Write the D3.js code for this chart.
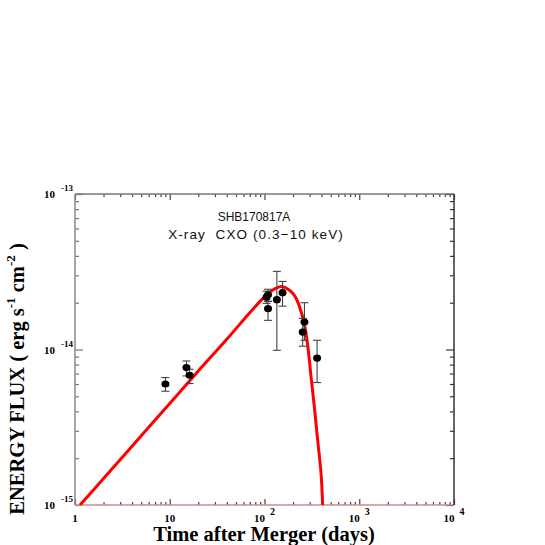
<!DOCTYPE html>
<html>
<head>
<meta charset="utf-8">
<script src="https://cdn.jsdelivr.net/npm/d3@7"></script>
<style>
  body { margin: 0; background: #fff; }
  svg { display: block; }
  .tick-lab { font-family: "Liberation Serif", "Times New Roman", serif; font-weight: bold; }
  .note { font-family: "Liberation Sans", Arial, sans-serif; fill: #111; }
</style>
</head>
<body>
<svg id="chart"></svg>
<script>
// X-ray CXO observations (days after merger, erg s-1 cm-2)
const obsDays = [9.0, 15.0, 16.2, 109, 105, 109, 135, 155, 264, 253, 359];
const obsFlux = [6.0e-15, 7.65e-15, 6.83e-15, 2.25e-14, 2.17e-14, 1.83e-14, 2.09e-14, 2.32e-14, 1.50e-14, 1.295e-14, 8.81e-15];
const obsHi = [6.6e-15, 8.44e-15, 7.46e-15, 2.44e-14, 2.37e-14, 2.04e-14, 3.18e-14, 2.74e-14, 2.0e-14, 1.585e-14, 1.146e-14];
const obsLo = [5.39e-15, 6.76e-15, 6.04e-15, 2.04e-14, 1.98e-14, 1.54e-14, 9.88e-15, 1.90e-14, 1.146e-14, 1.05e-14, 6.13e-15];

// model light curve
const modelDays = [1.129, 2, 4, 10, 20, 40, 69.5, 93, 113, 130.5, 151, 179, 207, 233.6, 263.7, 285.6, 310, 336, 364, 395, 411];
const modelFlux = [1.0e-15, 1.48e-15, 2.39e-15, 4.50e-15, 7.27e-15, 1.163e-14, 1.716e-14, 2.085e-14, 2.33e-14, 2.47e-14,
                   2.54e-14, 2.435e-14, 2.23e-14, 1.894e-14, 1.452e-14, 1.064e-14, 6.66e-15, 4.27e-15,
                   2.61e-15, 1.60e-15, 1.0e-15];

const xMajor = [1, 10, 100, 1000, 10000];
const xMajorLabels = [["1", ""], ["10", ""], ["10", "2"], ["10", "3"], ["10", "4"]];
const yMajor = [1e-15, 1e-14, 1e-13];
const yMajorExp = ["-15", "-14", "-13"];

const width = 545, height = 545;
const padL = 75, padR = 454, padT = 194, padB = 505;

const svg = d3.select('#chart').attr('width', width).attr('height', height);

const x = d3.scaleLog().domain([1, 1e4]).range([padL, padR]);
const y = d3.scaleLog().domain([1e-15, 1e-13]).range([padB, padT]);

const minorX = x.ticks().filter(v => !xMajor.includes(v));
const minorY = y.ticks().filter(v => !yMajor.some(m => Math.abs(m - v) / m < 1e-6));

// axes, ticks pointing inside on all four sides
const addAxis = (axis, tr, vals, size, color) => {
  const g = svg.append('g').attr('transform', tr)
    .call(axis.tickValues(vals).tickSize(size).tickFormat(''));
  g.select('.domain').remove();
  g.selectAll('line').attr('stroke', color).attr('stroke-width', 1.2);
  return g;
};

addAxis(d3.axisBottom(x), `translate(0,${padB})`, minorX, -3, '#444');
addAxis(d3.axisBottom(x), `translate(0,${padB})`, xMajor, -6, '#444');
addAxis(d3.axisTop(x), `translate(0,${padT})`, minorX, -3, '#444');
addAxis(d3.axisTop(x), `translate(0,${padT})`, xMajor, -6, '#444');
addAxis(d3.axisLeft(y), `translate(${padL},0)`, minorY, -4, '#777');
addAxis(d3.axisLeft(y), `translate(${padL},0)`, yMajor, -8, '#777');
addAxis(d3.axisRight(y), `translate(${padR},0)`, minorY, -4, '#333');
addAxis(d3.axisRight(y), `translate(${padR},0)`, yMajor, -8, '#333');

// frame
svg.append('line').attr('x1', padL).attr('x2', padR).attr('y1', padT).attr('y2', padT)
  .attr('stroke', '#777').attr('stroke-width', 1.5);
svg.append('line').attr('x1', padL).attr('x2', padR).attr('y1', padB).attr('y2', padB)
  .attr('stroke', '#d08a8a').attr('stroke-width', 1.5);
svg.append('line').attr('x1', padL).attr('x2', padL).attr('y1', padT).attr('y2', padB)
  .attr('stroke', '#888').attr('stroke-width', 1.5);
svg.append('line').attr('x1', padR).attr('x2', padR).attr('y1', padT).attr('y2', padB)
  .attr('stroke', '#333').attr('stroke-width', 1.5);

// tick labels
xMajor.forEach((v, i) => {
  const t = svg.append('text').attr('class', 'tick-lab')
    .attr('x', x(v)).attr('y', padB + 17).attr('text-anchor', 'middle')
    .style('font-size', '11px');
  t.append('tspan').text(xMajorLabels[i][0]);
  if (xMajorLabels[i][1]) {
    t.append('tspan').attr('dx', 5).attr('dy', -7).style('font-size', '10px').text(xMajorLabels[i][1]);
  }
});

yMajor.forEach((v, i) => {
  const t = svg.append('text').attr('class', 'tick-lab')
    .attr('x', 44).attr('y', y(v) + 4)
    .style('font-size', '11px');
  t.append('tspan').text('10');
  t.append('tspan').attr('dx', 6).attr('dy', -7).style('font-size', '9px').text(yMajorExp[i]);
});

// axis titles
svg.append('text').attr('class', 'tick-lab')
  .attr('x', 264).attr('y', 541).attr('text-anchor', 'middle')
  .style('font-size', '20.5px').text('Time after Merger (days)');

const yt = svg.append('text').attr('class', 'tick-lab')
  .attr('transform', 'translate(24,379) rotate(-90)').attr('text-anchor', 'middle')
  .style('font-size', '20.5px');
yt.append('tspan').text('ENERGY FLUX ( erg s');
yt.append('tspan').attr('dy', -9).style('font-size', '13px').text('-1');
yt.append('tspan').attr('dy', 9).text(' cm');
yt.append('tspan').attr('dy', -9).style('font-size', '13px').text('-2');
yt.append('tspan').attr('dy', 9).text(' )');

// annotations
svg.append('text').attr('class', 'note').attr('x', 254).attr('y', 221)
  .attr('text-anchor', 'middle').style('font-size', '12px').text('SHB170817A');
svg.append('text').attr('class', 'note').attr('x', 256).attr('y', 239)
  .attr('text-anchor', 'middle').style('font-size', '13.5px').style('letter-spacing', '1.1px')
  .attr('xml:space', 'preserve').text('X-ray  CXO (0.3\u221210 keV)');

// model curve
svg.append('clipPath').attr('id', 'plotClip').append('rect')
  .attr('x', padL).attr('y', padT).attr('width', padR - padL).attr('height', padB - padT);

const line = d3.line()
  .x((d, i) => x(modelDays[i]))
  .y((d, i) => y(modelFlux[i]))
  .curve(d3.curveCatmullRom.alpha(0.5));

svg.append('path').datum(modelDays)
  .attr('clip-path', 'url(#plotClip)')
  .attr('d', line)
  .attr('fill', 'none').attr('stroke', '#ff0000').attr('stroke-width', 3);

// error bars
const eb = svg.append('g').attr('stroke', '#444').attr('stroke-width', 1.1);
obsDays.forEach((t, i) => {
  const cx = x(t);
  eb.append('line').attr('x1', cx).attr('x2', cx).attr('y1', y(obsHi[i])).attr('y2', y(obsLo[i]));
  eb.append('line').attr('x1', cx - 4).attr('x2', cx + 4).attr('y1', y(obsHi[i])).attr('y2', y(obsHi[i]));
  eb.append('line').attr('x1', cx - 4).attr('x2', cx + 4).attr('y1', y(obsLo[i])).attr('y2', y(obsLo[i]));
});

svg.append('g').selectAll('ellipse').data(obsDays).enter().append('ellipse')
  .attr('cx', d => x(d))
  .attr('cy', (d, i) => y(obsFlux[i]))
  .attr('rx', 4).attr('ry', 3.6)
  .attr('fill', '#000');
</script>
</body>
</html>
